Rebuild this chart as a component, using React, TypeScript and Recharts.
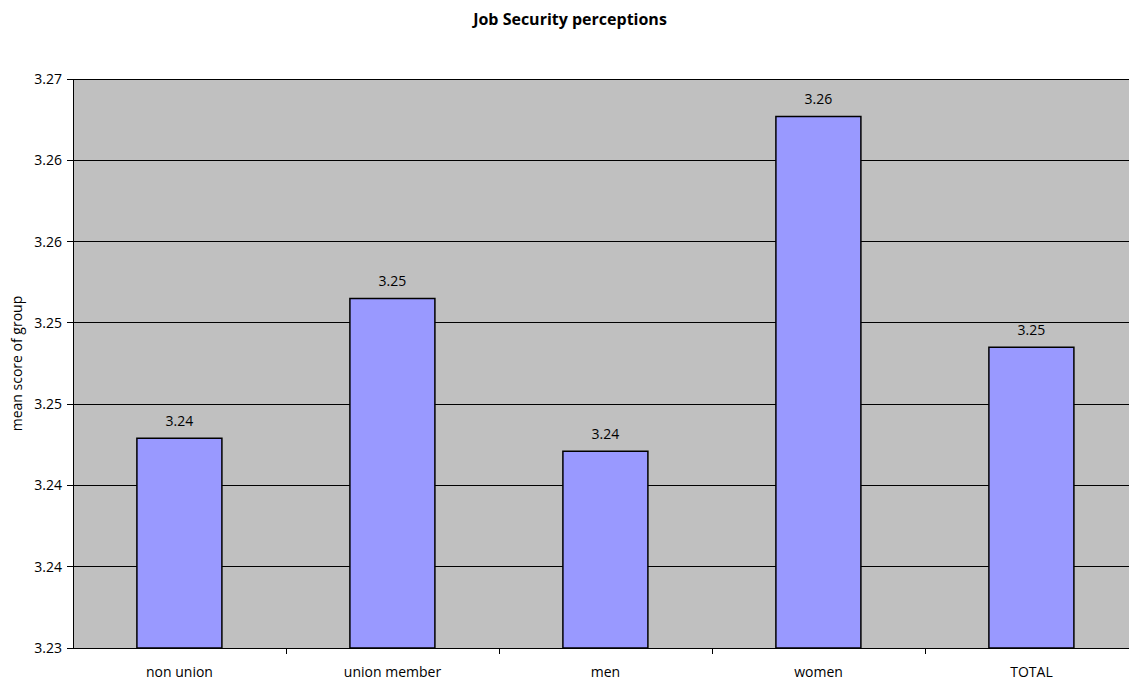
import React from 'react';
import { BarChart, Bar, XAxis, YAxis, CartesianGrid, LabelList } from 'recharts';

const groups = ['non union', 'union member', 'men', 'women', 'TOTAL'];
const meanScores = [3.2449, 3.2535, 3.2441, 3.2647, 3.2505];
const yTicks = [3.232, 3.237, 3.242, 3.247, 3.252, 3.257, 3.262, 3.267];

const data = groups.map((group, i) => ({ group, score: meanScores[i] }));

const FONT = '"Open Sans", sans-serif';

// category label plus a small tick mark on the right edge of each band
const GroupTick = (props: any) => {
  const { x, y, payload } = props;
  const half = payload?.offset ?? 106.5;
  return (
    <g>
      <line x1={x + half} y1={y - 8} x2={x + half} y2={y - 2} stroke="#000" shapeRendering="crispEdges" />
      <text x={x} y={y + 21} textAnchor="middle" fontSize={14} fontFamily={FONT} fill="#000">
        {payload.value}
      </text>
    </g>
  );
};

export default function App() {
  return (
    <div style={{ position: 'absolute', left: 0, top: 0, width: 1129, height: 680, overflow: 'hidden', background: '#fff' }}>
      <div
        style={{
          position: 'absolute',
          top: 8,
          left: 0,
          width: 1140,
          textAlign: 'center',
          fontFamily: FONT,
          fontWeight: 700,
          fontSize: 16,
          lineHeight: '22px',
        }}
      >
        Job Security perceptions
      </div>
      <BarChart
        width={1145}
        height={680}
        data={data}
        margin={{ top: 79, right: 7, left: 0, bottom: 0 }}
        barCategoryGap="30%"
      >
        <CartesianGrid vertical={false} horizontal stroke="#000" fill="#c0c0c0" shapeRendering="crispEdges" />
        <XAxis
          dataKey="group"
          height={32}
          tickLine={false}
          axisLine={{ stroke: '#000', shapeRendering: 'crispEdges' }}
          tick={<GroupTick />}
          interval={0}
        />
        <YAxis
          width={73}
          domain={[3.232, 3.267]}
          ticks={yTicks}
          interval={0}
          tickSize={6}
          tickMargin={5}
          axisLine={{ stroke: '#000', shapeRendering: 'crispEdges' }}
          tickLine={{ stroke: '#000', shapeRendering: 'crispEdges' }}
          tickFormatter={(v: number) => v.toFixed(2)}
          tick={{ fontSize: 14, fontFamily: FONT, fill: '#000' }}
          allowDataOverflow
          label={{
            value: 'mean score of group',
            angle: -90,
            position: 'insideLeft',
            dx: 12,
            style: { textAnchor: 'middle', fontSize: 14, fontFamily: FONT, fill: '#000' },
          }}
        />
        <Bar dataKey="score" fill="#9999ff" stroke="#000" strokeWidth={1.5} isAnimationActive={false}>
          <LabelList
            dataKey="score"
            position="top"
            offset={12}
            formatter={(v: any) => Number(v).toFixed(2)}
            style={{ fontSize: 14, fontFamily: FONT, fill: '#000' }}
          />
        </Bar>
      </BarChart>
    </div>
  );
}
